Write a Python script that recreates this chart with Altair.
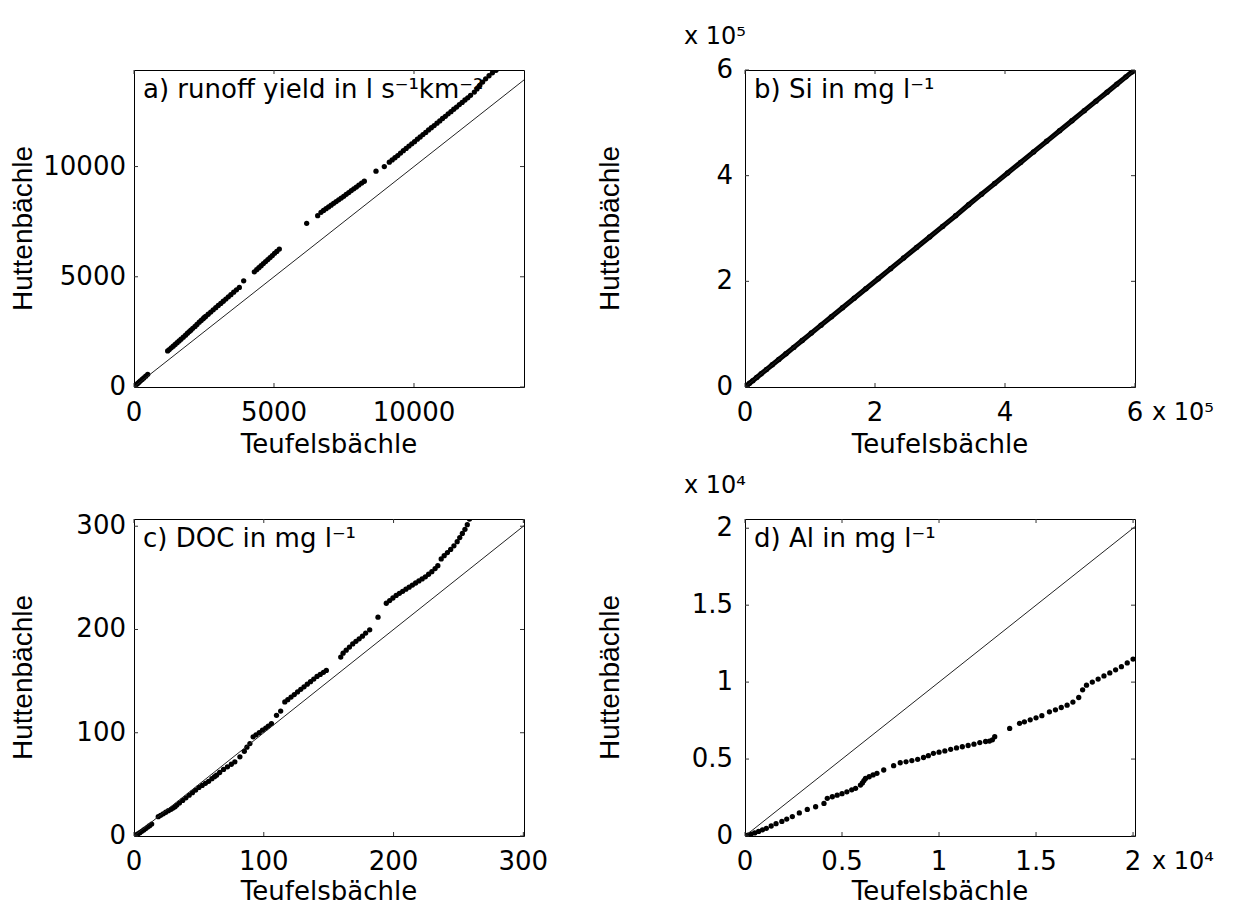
import altair as alt
import pandas as pd

# ---------------- data ----------------
# a) runoff yield in l s-1 km-2
a_teufels = [0, 40, 80, 130, 180, 230, 290, 350, 420, 490,
             1202, 1260, 1330, 1400, 1470, 1540, 1610, 1680, 1760, 1840, 1910, 1976,
             2030, 2100, 2180, 2250, 2330, 2400, 2470, 2512,
             2560, 2650, 2740, 2830, 2920, 3010, 3100, 3190, 3280, 3370, 3460, 3560, 3660, 3762,
             3917,
             4298, 4380, 4460, 4540, 4620, 4700, 4780, 4860, 4940, 5020, 5100, 5190,
             6167, 6560,
             6679, 6770, 6860, 6950, 7040, 7130, 7220, 7310, 7400, 7490, 7580, 7670, 7760, 7850, 7940, 8030, 8130, 8226,
             8643, 8940,
             9119, 9220, 9320, 9420, 9520, 9620, 9720, 9820, 9920, 10020, 10120, 10220, 10320, 10420, 10520,
             10620, 10720, 10820, 10920, 11020, 11120, 11220, 11320, 11420, 11520, 11620, 11720, 11820, 11920,
             12020, 12155, 12250, 12350, 12450, 12560, 12680, 12800, 12929]
a_hutten = [0, 50, 100, 160, 220, 280, 340, 410, 490, 575,
            1636, 1700, 1775, 1850, 1930, 2010, 2090, 2170, 2260, 2350, 2440, 2515,
            2580, 2660, 2750, 2840, 2940, 3020, 3100, 3152,
            3200, 3300, 3400, 3500, 3600, 3700, 3790, 3890, 3990, 4090, 4190, 4300, 4410, 4515,
            4818,
            5227, 5320, 5410, 5500, 5600, 5690, 5780, 5870, 5960, 6060, 6150, 6258,
            7424, 7773,
            7924, 8010, 8090, 8170, 8250, 8330, 8410, 8490, 8570, 8650, 8740, 8820, 8910, 8990, 9070, 9160, 9250, 9333,
            9788, 10000,
            10197, 10300, 10400, 10500, 10610, 10720, 10820, 10930, 11030, 11130, 11240, 11340, 11450, 11550, 11660,
            11760, 11860, 11970, 12070, 12180, 12280, 12390, 12490, 12600, 12700, 12810, 12910, 13020, 13120,
            13230, 13379, 13520, 13680, 13830, 13980, 14120, 14250, 14364]

# b) Si in mg l-1  (values in units of 10^5)
b_teufels = [0.00, 0.03, 0.07, 0.12, 0.18, 0.25, 0.33, 0.42, 0.52, 0.63, 0.75, 0.88, 1.02, 1.17,
             1.33, 1.50, 1.68, 1.86, 2.05, 2.24, 2.44, 2.64, 2.84, 3.04, 3.24, 3.44, 3.64, 3.84,
             4.04, 4.24, 4.44, 4.64, 4.84, 5.03, 5.22, 5.40, 5.57, 5.72, 5.86, 5.95, 6.00]
b_hutten = [0.00, 0.03, 0.07, 0.12, 0.18, 0.25, 0.33, 0.42, 0.52, 0.63, 0.75, 0.88, 1.02, 1.17,
            1.33, 1.50, 1.68, 1.86, 2.05, 2.24, 2.44, 2.64, 2.84, 3.04, 3.24, 3.45, 3.65, 3.85,
            4.05, 4.25, 4.45, 4.65, 4.85, 5.04, 5.23, 5.41, 5.58, 5.73, 5.87, 5.96, 6.00]

# c) DOC in mg l-1
c_teufels = [0, 1.5, 3, 4.5, 6, 7.5, 9, 10.5, 12, 13.6,
             18.7, 20.5, 22.5, 24.5, 26.5, 28.5, 30, 31.6,
             33, 35, 37.5, 40, 42.5, 45, 47.5, 50, 52.5, 55, 57.5, 60, 62, 63.6, 66, 69, 72, 75, 77.7,
             81.6, 85, 87, 89.3,
             91.8, 94, 96.5, 99, 101.5, 103.5, 105.9,
             109.8, 113,
             116.2, 118.5, 121, 123.5, 126, 128.5, 131, 133.5, 136, 138.5, 141, 143.5, 146, 148.2,
             159.3,
             161.1, 163.5, 166, 168.5, 171, 173.5, 176, 178.5, 181.6,
             188,
             194.4, 197, 199.5, 202, 204.5, 207, 209.5, 212, 214.5, 217, 219.5, 222, 224.5, 227, 229.5, 232, 234.1,
             236.7, 239, 241.5, 244, 246.5, 249, 251, 253, 255, 256.8, 258.5]
c_hutten = [0, 1, 2, 3.2, 4.5, 5.8, 7.2, 8.6, 10, 11.6,
            18.7, 20, 21.5, 23, 24.5, 25.8, 27, 28.3,
            30, 32, 34.5, 37, 39.5, 42, 44.5, 47, 49, 51, 53, 55.5, 57.5, 58.9, 61.5, 64.5, 67, 69.5, 71.8,
            76.7, 82, 86, 89.5,
            96, 98, 100, 102.5, 104.5, 106.5, 108.9,
            116.9, 121,
            129.8, 132, 134.5, 137, 139.5, 142, 144.5, 147, 149.5, 152, 154.5, 156.5, 158.5, 160.4,
            173.3,
            177.1, 180, 183, 186, 188.5, 191, 193.5, 196.5, 199.7,
            211.9,
            225.4, 228, 230.5, 233, 235, 237, 239, 241, 243, 245, 247, 249, 251, 253.5, 256, 259, 261.8,
            268.3, 271.5, 274.5, 277.5, 281, 285, 289, 293, 297, 301.5, 306.9]

# d) Al in mg l-1  (values in units of 10^4)
d_teufels = [0, 0.015, 0.03, 0.05, 0.07, 0.09, 0.11, 0.135, 0.16, 0.19, 0.215, 0.244,
             0.28, 0.321, 0.364,
             0.407, 0.424, 0.45, 0.475, 0.5, 0.525, 0.55, 0.57, 0.595,
             0.605, 0.613, 0.621, 0.64, 0.66, 0.68,
             0.715, 0.766,
             0.8, 0.83, 0.86, 0.89, 0.92, 0.945, 0.971, 1.0, 1.03, 1.06, 1.09, 1.12, 1.15, 1.18,
             1.21, 1.24, 1.26, 1.275, 1.287,
             1.364,
             1.415, 1.44, 1.47, 1.5, 1.53, 1.569, 1.6, 1.63, 1.66, 1.69, 1.72, 1.74, 1.76, 1.79,
             1.82, 1.85, 1.88, 1.91, 1.94, 1.97, 2.0]
d_hutten = [0, 0.005, 0.012, 0.02, 0.03, 0.04, 0.05, 0.065, 0.08, 0.095, 0.11, 0.126,
            0.15, 0.173, 0.19,
            0.212, 0.245, 0.255, 0.265, 0.275, 0.287, 0.3, 0.31, 0.331,
            0.345, 0.36, 0.374, 0.385, 0.397, 0.407,
            0.429, 0.457,
            0.476, 0.482, 0.49, 0.498, 0.51, 0.522, 0.537, 0.545, 0.553, 0.563, 0.572, 0.58, 0.588, 0.597,
            0.607, 0.614, 0.617, 0.625, 0.645,
            0.699,
            0.732, 0.742, 0.755, 0.768, 0.782, 0.807, 0.82, 0.835, 0.85, 0.87, 0.9, 0.95, 0.98, 1.0,
            1.02, 1.04, 1.06, 1.08, 1.1, 1.125, 1.15]

labels = ["a) runoff yield in l s\u207b\u00b9km\u207b\u00b2", "b) Si in mg l\u207b\u00b9",
          "c) DOC in mg l\u207b\u00b9", "d) Al in mg l\u207b\u00b9"]
tick_values = {
    "a": [0, 5000, 10000],
    "b": [0, 2, 4, 6],
    "c": [0, 100, 200, 300],
    "d": [0, 0.5, 1, 1.5, 2],
}
tick_labels = {
    "a": ["0", "5000", "10000"],
    "b": ["0", "2", "4", "6"],
    "c": ["0", "100", "200", "300"],
    "d": ["0", "0.5", "1", "1.5", "2"],
}
domains = {  # (x max, y max)
    "a": (13929, 14380),
    "b": (6.0, 6.0),
    "c": (300.5, 307),
    "d": (2.01, 2.06),
}
exponents = {"b": "x 10\u2075", "d": "x 10\u2074"}
x_title = "Teufelsbächle"
y_title = "Huttenbächle"

W, H = 390, 317
HFONT = "DejaVu Sans"
VFONT = "Liberation Sans"


def txt(text, x, y, size=26, font=HFONT, align="left", baseline="alphabetic", angle=0):
    kw = dict(align=align, baseline=baseline, font=font, fontSize=size, color="black")
    if angle:
        kw["angle"] = angle
    return alt.Chart(pd.DataFrame({"s": [text]})).mark_text(**kw).encode(
        x=alt.value(x), y=alt.value(y), text="s:N")


def panel(key, tx, hy, label, ytitle_x, ylabel_pad, xtitle_y):
    xmax, ymax = domains[key]
    tv = tick_values[key]
    tl = tick_labels[key]
    xs = alt.Scale(domain=[0, xmax], nice=False, zero=False)
    ys = alt.Scale(domain=[0, ymax], nice=False, zero=False)
    X = lambda f: alt.X(f, scale=xs, axis=None)
    Y = lambda f: alt.Y(f, scale=ys, axis=None)
    df = pd.DataFrame({"t": tx, "h": hy})
    m = max(xmax, ymax)

    if key == "b":
        pts = alt.layer(
            alt.Chart(df).mark_line(color="black", strokeWidth=5, clip=True).encode(
                x=X("t:Q"), y=Y("h:Q")),
            alt.Chart(df).mark_circle(color="black", size=30, opacity=1, clip=True).encode(
                x=X("t:Q"), y=Y("h:Q")),
        )
    else:
        pts = alt.Chart(df).mark_circle(color="black", size=28, opacity=1, clip=True).encode(
            x=X("t:Q"), y=Y("h:Q"))

    diag = alt.Chart(pd.DataFrame({"t": [0, m], "h": [0, m]})).mark_line(
        color="#222222", strokeWidth=1, clip=True
    ).encode(x=X("t:Q"), y=Y("h:Q"))

    tdf = pd.DataFrame({"v": tv, "s": tl})
    rule = dict(color="#333333", strokeWidth=1)
    tick_layers = [
        alt.Chart(tdf).mark_rule(**rule).encode(x=X("v:Q"), y=alt.value(H), y2=alt.value(H - 4)),
        alt.Chart(tdf).mark_rule(**rule).encode(x=X("v:Q"), y=alt.value(0), y2=alt.value(4)),
        alt.Chart(tdf).mark_rule(**rule).encode(y=Y("v:Q"), x=alt.value(0), x2=alt.value(4)),
        alt.Chart(tdf).mark_rule(**rule).encode(y=Y("v:Q"), x=alt.value(W), x2=alt.value(W - 4)),
    ]
    xlab = alt.Chart(tdf).mark_text(
        align="center", baseline="alphabetic", font=HFONT, fontSize=26, color="black"
    ).encode(x=X("v:Q"), y=alt.value(H + 34), text="s:N")
    ylab = alt.Chart(tdf).mark_text(
        align="right", baseline="middle", font=HFONT, fontSize=26, color="black"
    ).encode(y=Y("v:Q"), x=alt.value(-ylabel_pad), text="s:N")

    layers = [pts, diag] + tick_layers + [xlab, ylab]
    layers.append(txt(x_title, W / 2, H + xtitle_y, align="center"))
    layers.append(txt(y_title, ytitle_x, H / 2, size=28, font=VFONT, align="center",
                      baseline="middle", angle=270))
    layers.append(txt(label, 9, 28, size=26))
    if key in exponents:
        layers.append(txt(exponents[key], -61, -26, size=24))
        layers.append(txt(exponents[key], 407, H + 33, size=24))
    return alt.layer(*layers).properties(width=W, height=H)


pa = panel("a", a_teufels, a_hutten, labels[0], -110, 8, 66)
pb = panel("b", b_teufels, b_hutten, labels[1], -134, 12, 66)
pc = panel("c", c_teufels, c_hutten, labels[2], -110, 8, 64)
pd_ = panel("d", d_teufels, d_hutten, labels[3], -134, 12, 64)

chart = alt.ConcatChart(
    concat=[pa, pb, pc, pd_], columns=2,
    spacing={"row": 132, "column": 221}, bounds="flush",
    padding={"left": 1, "top": 16, "right": 5, "bottom": 5},
    background="white",
).configure_view(stroke="black", strokeWidth=1)

chart.save("out.html", embed_options={"renderer": "svg", "actions": False})
